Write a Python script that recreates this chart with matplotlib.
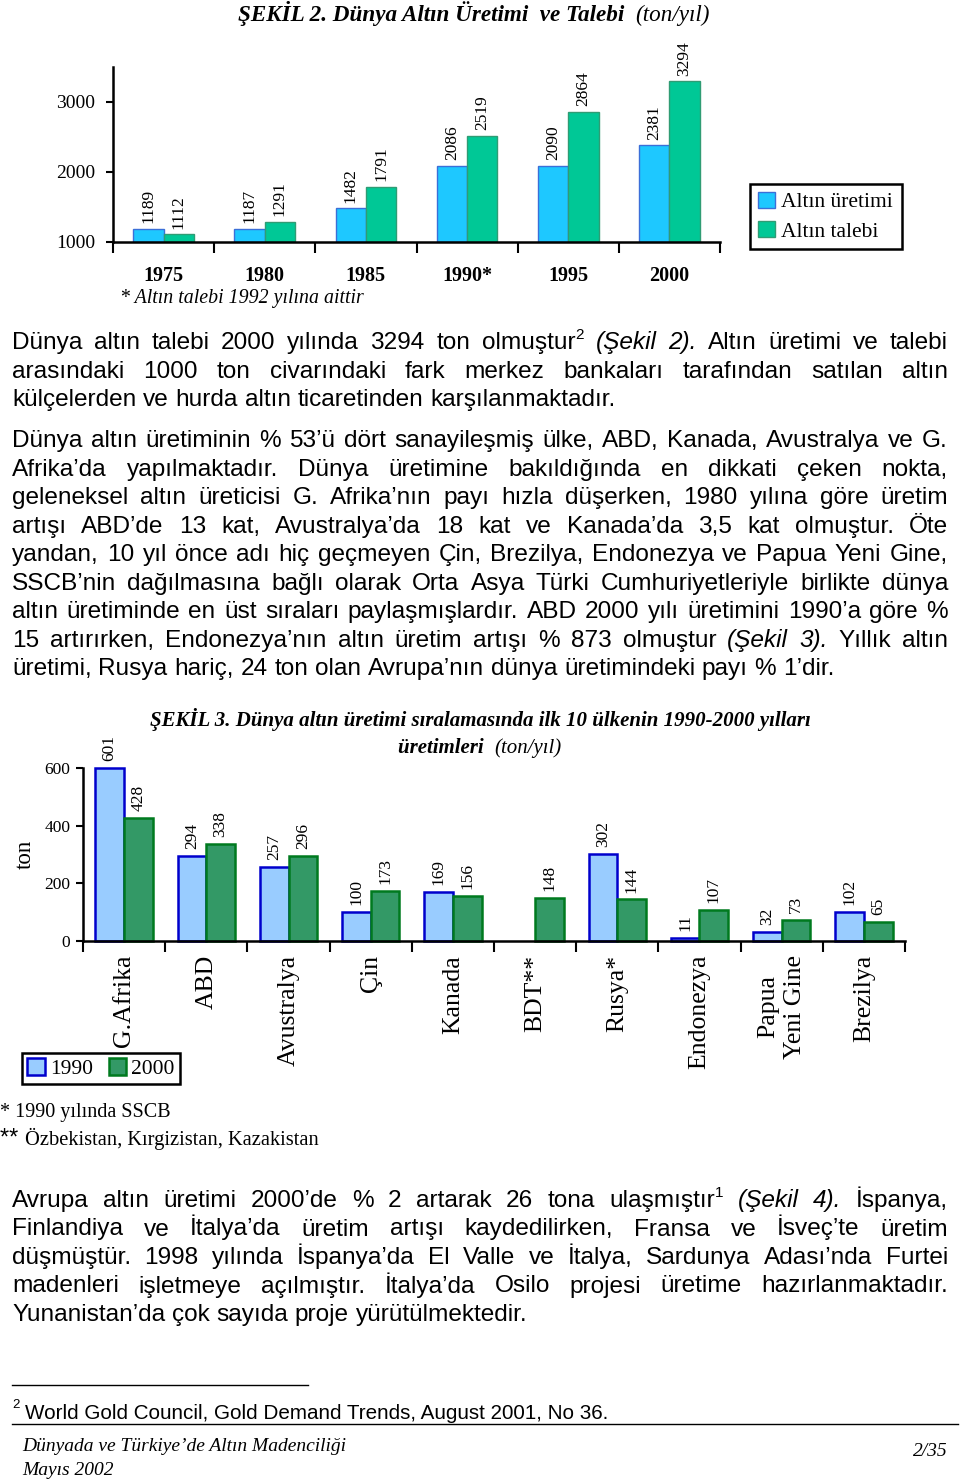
import matplotlib
matplotlib.use("Agg")
import numpy as np
import matplotlib.pyplot as plt

W, H = 960, 1480
SERIF = "Liberation Serif"
SANS = "Liberation Sans"

# --- Şekil 2 data ---
years = ["1975", "1980", "1985", "1990*", "1995", "2000"]
uretim = [1189, 1187, 1482, 2086, 2090, 2381]
talep = [1112, 1291, 1791, 2519, 2864, 3294]

# --- Şekil 3 data ---
ulkeler = ["G.Afrika", "ABD", "Avustralya", "Çin", "Kanada", "BDT**",
           "Rusya*", "Endonezya", "Papua\nYeni Gine", "Brezilya"]
uretim_1990 = [601, 294, 257, 100, 169, None, 302, 11, 32, 102]
uretim_2000 = [428, 338, 296, 173, 156, 148, 144, 107, 73, 65]

par1 = [
    "Dünya altın talebi 2000 yılında 3294 ton olmuştur^2 ~(Şekil ~2). Altın üretimi ve talebi",
    "arasındaki 1000 ton civarındaki fark merkez bankaları tarafından satılan altın",
    "külçelerden ve hurda altın ticaretinden karşılanmaktadır.",
]
par2 = [
    "Dünya altın üretiminin % 53’ü dört sanayileşmiş ülke, ABD, Kanada, Avustralya ve G.",
    "Afrika’da yapılmaktadır. Dünya üretimine bakıldığında en dikkati çeken nokta,",
    "geleneksel altın üreticisi G. Afrika’nın payı hızla düşerken, 1980 yılına göre üretim",
    "artışı ABD’de 13 kat, Avustralya’da 18 kat ve Kanada’da 3,5 kat olmuştur. Öte",
    "yandan, 10 yıl önce adı hiç geçmeyen Çin, Brezilya, Endonezya ve Papua Yeni Gine,",
    "SSCB’nin dağılmasına bağlı olarak Orta Asya Türki Cumhuriyetleriyle birlikte dünya",
    "altın üretiminde en üst sıraları paylaşmışlardır. ABD 2000 yılı üretimini 1990’a göre %",
    "15 artırırken, Endonezya’nın altın üretim artışı % 873 olmuştur ~(Şekil ~3). Yıllık altın",
    "üretimi, Rusya hariç, 24 ton olan Avrupa’nın dünya üretimindeki payı % 1’dir.",
]
par3 = [
    "Avrupa altın üretimi 2000’de % 2 artarak 26 tona ulaşmıştır^1 ~(Şekil ~4). İspanya,",
    "Finlandiya ve İtalya’da üretim artışı kaydedilirken, Fransa ve İsveç’te üretim",
    "düşmüştür. 1998 yılında İspanya’da El Valle ve İtalya, Sardunya Adası’nda Furtei",
    "madenleri işletmeye açılmıştır. İtalya’da Osilo projesi üretime hazırlanmaktadır.",
    "Yunanistan’da çok sayıda proje yürütülmektedir.",
]

fig = plt.figure(figsize=(W / 100, H / 100), dpi=100)
renderer = fig.canvas.get_renderer()


def fx(x):
    return x / W


def fy(y):
    return 1 - y / H


def text_w(s, **kw):
    t = fig.text(0, 0, s, **kw)
    w = t.get_window_extent(renderer).width
    t.remove()
    return w


def draw_runs(runs, x, y, align="left"):
    # runs: list of (text, kwargs); y is baseline in pixels
    widths = [text_w(s, **kw) for s, kw in runs]
    total = sum(widths)
    if align == "center":
        x = x - total / 2
    elif align == "right":
        x = x - total
    for (s, kw), w in zip(runs, widths):
        fig.text(fx(x), fy(y), s, va="baseline", ha="left", **kw)
        x += w


BODY = dict(family=SANS, fontsize=17.6)


def word_pieces(word):
    italic = word.startswith("~")
    word = word.lstrip("~")
    style = dict(BODY, style="italic") if italic else dict(BODY)
    if "^" in word:
        a, b = word.split("^")
        return [(a, style, 0), (b, dict(family=SANS, fontsize=11), 10)]
    return [(word, style, 0)]


def draw_paragraph(lines, y0, step=28.5, x0=12, x1=948):
    sp = text_w("a a", **BODY) - text_w("aa", **BODY)
    for i, line in enumerate(lines):
        words = [word_pieces(w) for w in line.split(" ")]
        ww = [sum(text_w(p[0], **p[1]) for p in wp) for wp in words]
        last = i == len(lines) - 1
        gap = sp if last else max((x1 - x0 - sum(ww)) / (len(words) - 1), sp * 0.7)
        x = x0
        y = y0 + i * step
        for wp, w in zip(words, ww):
            xx = x
            for s, kw, rise in wp:
                fig.text(fx(xx), fy(y) + rise / H, s, va="baseline", ha="left", **kw)
                xx += text_w(s, **kw)
            x += w + gap


# ---------------- Şekil 2 ----------------
BLUE1, BLUE1_E = "#1ec8ff", "#3b6fd8"
GREEN1, GREEN1_E = "#00c896", "#2f9c74"

draw_runs([("ŞEKİL 2. Dünya Altın Üretimi  ve Talebi  ", dict(family=SERIF, fontsize=16.7, weight="bold", style="italic")),
           ("(ton/yıl)", dict(family=SERIF, fontsize=16.7, style="italic"))], 474, 21, align="center")

ax1 = fig.add_axes([fx(113), fy(242), (720 - 113) / W, (242 - 67) / H])
x = np.arange(len(years)) + 0.5
b1 = ax1.bar(x - 0.15, np.array(uretim) - 1000, 0.3, bottom=1000, color=BLUE1,
             edgecolor=BLUE1_E, linewidth=1, label="Altın üretimi")
b2 = ax1.bar(x + 0.15, np.array(talep) - 1000, 0.3, bottom=1000, color=GREEN1,
             edgecolor=GREEN1_E, linewidth=1, label="Altın talebi")
for bars, vals in ((b1, uretim), (b2, talep)):
    for r, v in zip(bars, vals):
        ax1.annotate(str(v), (r.get_x() + r.get_width() / 2, v), xytext=(0, 4),
                     textcoords="offset points", rotation=90, ha="center", va="bottom",
                     family=SERIF, fontsize=12.5)
ax1.set_xlim(0, len(years))
ax1.set_ylim(1000, 3500)
ax1.set_yticks([1000, 2000, 3000])
ax1.set_yticklabels(["1000", "2000", "3000"], family=SERIF, fontsize=14)
ax1.set_xticks(np.arange(len(years) + 1))
ax1.set_xticklabels([])
ax1.set_xticks(x, minor=True)
ax1.set_xticklabels(years, minor=True, family=SERIF, fontsize=14.5, weight="bold")
ax1.tick_params(axis="x", which="major", direction="out", length=8, width=1.5)
ax1.tick_params(axis="x", which="minor", length=0, pad=17)
ax1.tick_params(axis="y", direction="out", length=5, width=1.5, pad=8)
for s in ("top", "right"):
    ax1.spines[s].set_visible(False)
for s in ("left", "bottom"):
    ax1.spines[s].set_linewidth(1.8)
ax1.patch.set_alpha(0)
leg1 = fig.legend(handles=[b1, b2], loc="upper left",
                  bbox_to_anchor=(fx(750), fy(251), (902 - 750) / W, (251 - 184) / H),
                  mode="expand", prop=dict(family=SERIF, size=15.5), fancybox=False,
                  edgecolor="black", framealpha=1, handlelength=0.8, handleheight=0.8,
                  handletextpad=0.3, borderpad=0.35, labelspacing=0.4, borderaxespad=0)
leg1.get_frame().set_linewidth(1.8)
fig.text(fx(120), fy(303), "* Altın talebi 1992 yılına aittir", family=SERIF,
         fontsize=14.3, style="italic", va="baseline")

# ---------------- paragraphs ----------------
draw_paragraph(par1, 349)
draw_paragraph(par2, 447)
draw_paragraph(par3, 1207)

# ---------------- Şekil 3 ----------------
BLUE2, BLUE2_E = "#99ccff", "#0000cc"
GREEN2, GREEN2_E = "#339966", "#007a1f"

T3 = dict(family=SERIF, fontsize=15, weight="bold", style="italic")
draw_runs([("ŞEKİL 3. Dünya altın üretimi sıralamasında ilk 10 ülkenin 1990-2000 yılları", T3)],
          480, 726, align="center")
draw_runs([("üretimleri  ", T3), ("(ton/yıl)", dict(family=SERIF, fontsize=15, style="italic"))],
          480, 753, align="center")

ax2 = fig.add_axes([fx(83), fy(941), (905 - 83) / W, (941 - 768) / H])
x2 = np.arange(len(ulkeler)) + 0.5
v90 = np.array([np.nan if v is None else v for v in uretim_1990], dtype=float)
c1 = ax2.bar(x2 - 0.175, v90, 0.35, color=BLUE2, edgecolor=BLUE2_E, linewidth=1.8,
             label="1990", clip_on=False)
c2 = ax2.bar(x2 + 0.175, uretim_2000, 0.35, color=GREEN2, edgecolor=GREEN2_E,
             linewidth=1.8, label="2000", clip_on=False)
for xi, v in zip(x2 - 0.175, uretim_1990):
    if v is not None:
        ax2.annotate(str(v), (xi, v), xytext=(0, 5), textcoords="offset points", rotation=90,
                     ha="center", va="bottom", family=SERIF, fontsize=12.5)
for xi, v in zip(x2 + 0.175, uretim_2000):
    ax2.annotate(str(v), (xi, v), xytext=(0, 5), textcoords="offset points", rotation=90,
                 ha="center", va="bottom", family=SERIF, fontsize=12.5)
ax2.set_xlim(0, len(ulkeler))
ax2.set_ylim(0, 600)
ax2.set_yticks([0, 200, 400, 600])
ax2.set_yticklabels(["0", "200", "400", "600"], family=SERIF, fontsize=12.5)
ax2.set_ylabel("ton", family=SERIF, fontsize=16.5, labelpad=6)
ax2.set_xticks(np.arange(len(ulkeler) + 1))
ax2.set_xticklabels([])
ax2.set_xticks(x2, minor=True)
ax2.set_xticklabels(ulkeler, minor=True, rotation=90, family=SERIF, fontsize=18.5,
                    linespacing=1.25)
ax2.tick_params(axis="x", which="major", direction="out", length=8, width=1.5)
ax2.tick_params(axis="x", which="minor", length=0, pad=10)
ax2.tick_params(axis="y", direction="out", length=5, width=1.5, pad=4)
for s in ("top", "right"):
    ax2.spines[s].set_visible(False)
for s in ("left", "bottom"):
    ax2.spines[s].set_linewidth(1.8)
ax2.patch.set_alpha(0)
leg2 = fig.legend(handles=[c1, c2], loc="upper left", ncol=2,
                  bbox_to_anchor=(fx(22), fy(1090), (180 - 22) / W, (1090 - 1053) / H),
                  mode="expand", prop=dict(family=SERIF, size=15.5), fancybox=False,
                  edgecolor="black", framealpha=1, handlelength=0.8, handleheight=0.8,
                  handletextpad=0.25, columnspacing=0.5, borderpad=0.25, borderaxespad=0)
leg2.get_frame().set_linewidth(1.8)
fig.text(fx(0), fy(1117), "* 1990 yılında SSCB", family=SERIF, fontsize=14.5, va="baseline")
draw_runs([("** ", dict(family=SANS, fontsize=17)),
           ("Özbekistan, Kırgizistan, Kazakistan", dict(family=SERIF, fontsize=14.8))], 0, 1145)

# ---------------- footnote & footer ----------------
fig.add_artist(plt.Line2D([fx(12), fx(308)], [fy(1385), fy(1385)], color="black", lw=1))
draw_runs([("2", dict(family=SANS, fontsize=9.5))], 12, 1408)
fig.text(fx(25), fy(1419), "World Gold Council, Gold Demand Trends, August 2001, No 36.",
         family=SANS, fontsize=14.9, va="baseline")
fig.add_artist(plt.Line2D([fx(12), fx(958)], [fy(1424), fy(1424)], color="black", lw=1))
fig.text(fx(22), fy(1451), "Dünyada ve Türkiye’de Altın Madenciliği", family=SERIF,
         fontsize=14, style="italic", va="baseline")
fig.text(fx(22), fy(1475), "Mayıs 2002", family=SERIF, fontsize=14, style="italic", va="baseline")
fig.text(fx(948), fy(1456), "2/35", family=SERIF, fontsize=14, style="italic", va="baseline",
         ha="right")

fig.savefig("out.png", dpi=100)
